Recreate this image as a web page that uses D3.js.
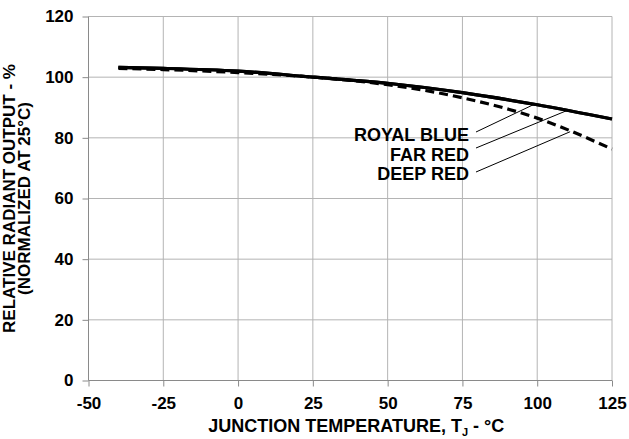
<!DOCTYPE html>
<html>
<head>
<meta charset="utf-8">
<script src="https://cdn.jsdelivr.net/npm/d3@7/dist/d3.min.js"></script>
<style>
  body { margin: 0; background: #fff; }
  svg { display: block; font-family: "Liberation Sans", Arial, sans-serif; font-weight: bold; }
</style>
</head>
<body>
<div id="chart"></div>
<script>
// data
var temps     = [-40, -25, 0, 25, 50, 75, 100, 125];
var royalBlue = [103.2, 102.9, 102.0, 100, 98.0, 94.9, 90.9, 86.2];
var farRed    = [103.2, 102.9, 102.0, 100, 98.0, 94.9, 90.9, 86.2];
var deepRed   = [102.9, 102.5, 101.5, 100, 97.5, 93.2, 86.5, 76.3];
var xTicks    = [-50, -25, 0, 25, 50, 75, 100, 125];
var yTicks    = [0, 20, 40, 60, 80, 100, 120];
var seriesNames = ['ROYAL BLUE', 'FAR RED', 'DEEP RED'];
var leaderTemps = [99, 110, 111];

var width = 629, height = 439;
var margin = {top: 16.5, right: 17, bottom: 58.5, left: 88.5};

var svg = d3.select('#chart').append('svg')
  .attr('width', width)
  .attr('height', height);

var x = d3.scaleLinear().domain([-50, 125]).range([margin.left, width - margin.right]);
var y = d3.scaleLinear().domain([0, 120]).range([height - margin.bottom, margin.top]);

// grid
svg.append('g').selectAll('line').data(xTicks.slice(1)).enter().append('line')
  .attr('x1', function(d){ return x(d); }).attr('x2', function(d){ return x(d); })
  .attr('y1', y(0)).attr('y2', y(120))
  .style('stroke', '#b4b4b4').style('stroke-width', 1);
svg.append('g').selectAll('line').data(yTicks.slice(1)).enter().append('line')
  .attr('x1', x(-50)).attr('x2', x(125))
  .attr('y1', function(d){ return y(d); }).attr('y2', function(d){ return y(d); })
  .style('stroke', '#b4b4b4').style('stroke-width', 1);

// axes
var fmt = function(d){ return String(d); };
var xAxis = svg.append('g')
  .attr('transform', 'translate(0,' + y(0) + ')')
  .call(d3.axisBottom(x).tickValues(xTicks).tickFormat(fmt).tickSize(6).tickPadding(10));
var yAxis = svg.append('g')
  .attr('transform', 'translate(' + x(-50) + ',0)')
  .call(d3.axisLeft(y).tickValues(yTicks).tickFormat(fmt).tickSize(6).tickPadding(9));
[xAxis, yAxis].forEach(function(a){
  a.select('.domain').style('stroke', '#8a8a8a');
  a.selectAll('.tick line').style('stroke', '#8a8a8a');
  a.selectAll('text').style('font-size', '17px').style('font-weight', 'bold')
    .style('font-family', '"Liberation Sans", Arial, sans-serif').style('fill', '#000');
});
xAxis.select('.domain').attr('d', 'M' + x(-50) + ',0H' + x(125));
yAxis.select('.domain').attr('d', 'M0,' + y(0) + 'V' + y(120));

// lines
var line = d3.line()
  .x(function(d){ return x(d[0]); })
  .y(function(d){ return y(d[1]); })
  .curve(d3.curveMonotoneX);

function pts(vals) { return temps.map(function(t, i){ return [t, vals[i]]; }); }

var series = [
  {name: seriesNames[0], values: royalBlue, dash: null},
  {name: seriesNames[1], values: farRed, dash: null},
  {name: seriesNames[2], values: deepRed, dash: '9,5'}
];

svg.append('g').selectAll('path').data(series).enter().append('path')
  .attr('d', function(d){ return line(pts(d.values)); })
  .style('fill', 'none')
  .style('stroke', '#000')
  .style('stroke-width', 3.2)
  .style('stroke-dasharray', function(d){ return d.dash; });

// labels with leader lines
var interp = function(vals, t) {
  return d3.scaleLinear().domain(temps).range(vals)(t);
};
var labelX = 469, labelBase = [141, 161, 180], leaderOff = [9, 13, 8];
var lab = svg.append('g');
series.forEach(function(s, i){
  lab.append('text')
    .attr('x', labelX).attr('y', labelBase[i])
    .attr('text-anchor', 'end')
    .style('font-size', '18px')
    .text(s.name);
  lab.append('line')
    .attr('x1', labelX + 7).attr('y1', labelBase[i] - leaderOff[i])
    .attr('x2', x(leaderTemps[i])).attr('y2', y(interp(s.values, leaderTemps[i])))
    .style('stroke', '#000').style('stroke-width', 1);
});

// axis titles
var xt = svg.append('text')
  .attr('x', (x(-50) + x(125)) / 2 + 6).attr('y', 432)
  .attr('text-anchor', 'middle')
  .style('font-size', '18px');
xt.append('tspan').text('JUNCTION TEMPERATURE, T');
xt.append('tspan').attr('dy', 4).style('font-size', '11px').text('J');
xt.append('tspan').attr('dy', -4).text(' - °C');

var yt = svg.append('text')
  .attr('transform', 'translate(0,' + ((y(0) + y(120)) / 2) + ') rotate(-90)')
  .attr('text-anchor', 'middle')
  .style('font-size', '17px');
yt.append('tspan').attr('x', 0).attr('y', 15).text('RELATIVE RADIANT OUTPUT - %');
yt.append('tspan').attr('x', 0).attr('y', 30).text('(NORMALIZED AT 25°C)');
</script>
</body>
</html>
